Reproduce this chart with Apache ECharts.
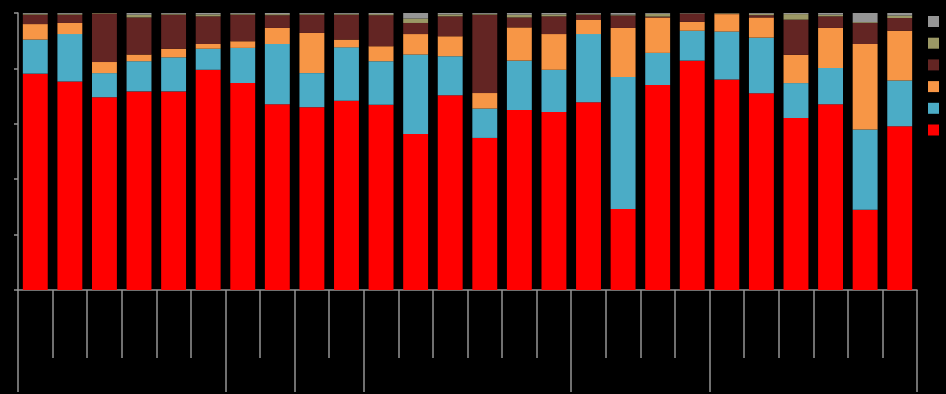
<!DOCTYPE html>
<html>
<head>
<meta charset="utf-8">
<script src="https://cdn.jsdelivr.net/npm/echarts@6/dist/echarts.min.js"></script>
<style>
  html, body { margin: 0; padding: 0; background: #000; }
  #chart { width: 946px; height: 394px; }
</style>
</head>
<body>
<div id="chart"></div>
<script>
// Category slots along the x axis (labels are not shown)
const categories = ['1','2','3','4','5','6','7','8','9','10','11','12','13',
                    '14','15','16','17','18','19','20','21','22','23','24','25','26'];
// Number of bars in each group, marked by the long ticks below the axis
const groupSizes = [6, 2, 2, 6, 4, 6];

// Shares per bar (percent), stacked bottom to top
const redShare    = [78.1, 75.3, 69.6, 71.7, 71.7, 79.5, 74.7, 67.1, 66.0, 68.3, 66.9, 56.3, 70.3, 54.9, 65.0, 64.3, 67.8, 29.2, 74.0, 82.8, 76.0, 71.0, 62.1, 67.1, 29.0, 59.1];
const blueShare   = [12.3, 17.1, 8.7, 10.9, 12.3, 7.6, 12.7, 21.7, 12.3, 19.3, 15.7, 28.7, 14.1, 10.6, 17.8, 15.2, 24.6, 47.7, 11.6, 10.8, 17.3, 20.1, 12.6, 13.0, 28.9, 16.5];
const orangeShare = [5.6, 4.0, 4.0, 2.4, 3.1, 1.7, 2.4, 5.8, 14.5, 2.8, 5.4, 7.4, 7.2, 5.6, 12.0, 12.9, 5.2, 17.7, 12.8, 3.2, 6.3, 7.3, 10.2, 14.5, 30.9, 18.0];
const brownShare  = [3.4, 3.0, 17.5, 13.4, 12.3, 10.0, 9.6, 4.6, 6.6, 9.0, 11.2, 4.0, 7.2, 28.3, 3.6, 6.4, 1.8, 4.5, 0.3, 3.0, 0.2, 0.8, 12.7, 4.2, 7.6, 4.6];
const khakiShare  = [0.3, 0.3, 0.2, 1.0, 0.3, 0.7, 0.3, 0.4, 0.3, 0.3, 0.4, 1.6, 0.7, 0.3, 1.0, 0.7, 0.3, 0.3, 1.0, 0.1, 0.2, 0.5, 2.0, 0.6, 0.3, 0.9];
const greyShare   = [0.3, 0.3, 0.0, 0.6, 0.3, 0.5, 0.3, 0.4, 0.3, 0.3, 0.4, 2.0, 0.5, 0.3, 0.6, 0.5, 0.3, 0.6, 0.3, 0.1, 0.0, 0.3, 0.4, 0.6, 3.3, 0.9];

// Y axis ticks (percent)
const yTicks = [0, 20, 40, 60, 80, 100];

const seriesDefs = [
  { name: 'A', data: redShare,    color: '#ff0000' },
  { name: 'B', data: blueShare,   color: '#4bacc6' },
  { name: 'C', data: orangeShare, color: '#f79646' },
  { name: 'D', data: brownShare,  color: '#632523' },
  { name: 'E', data: khakiShare,  color: '#9b9865' },
  { name: 'F', data: greyShare,   color: '#959595' }
];

// Group boundary positions on a 0..N scale
const boundaries = [0];
groupSizes.forEach(n => boundaries.push(boundaries[boundaries.length - 1] + n));

const axisGrey = '#959595';

const chart = echarts.init(document.getElementById('chart'), null, { renderer: 'canvas' });
chart.setOption({
  backgroundColor: '#000',
  animation: false,
  grid: { left: 18, right: 29, top: 13, bottom: 104, containLabel: false },
  legend: {
    orient: 'vertical',
    left: 923,
    top: 11,
    itemWidth: 11,
    itemHeight: 11,
    itemGap: 10.7,
    icon: 'rect',
    formatter: () => '',
    textStyle: { fontSize: 1, color: '#000' },
    data: seriesDefs.map(s => s.name).reverse()
  },
  xAxis: [
    {
      type: 'category',
      data: categories,
      boundaryGap: true,
      axisLine: { show: true, lineStyle: { color: axisGrey, width: 1.5 } },
      axisTick: { show: true, interval: 0, length: 68, lineStyle: { color: axisGrey, width: 1.5 } },
      axisLabel: { show: false },
      splitLine: { show: false }
    },
    {
      type: 'value',
      position: 'bottom',
      min: 0,
      max: categories.length,
      axisLine: { show: false },
      axisTick: { show: true, customValues: boundaries, length: 102, lineStyle: { color: axisGrey, width: 1.5 } },
      axisLabel: { show: false },
      splitLine: { show: false }
    }
  ],
  yAxis: {
    type: 'value',
    min: yTicks[0],
    max: yTicks[yTicks.length - 1],
    interval: yTicks[1] - yTicks[0],
    axisLine: { show: true, lineStyle: { color: axisGrey, width: 1.5 } },
    axisTick: { show: true, length: 4, lineStyle: { color: axisGrey, width: 1.5 } },
    axisLabel: { show: false },
    splitLine: { show: false }
  },
  series: seriesDefs.map(s => ({
    name: s.name,
    type: 'bar',
    stack: 'share',
    xAxisIndex: 0,
    barWidth: '72%',
    data: s.data,
    itemStyle: { color: s.color },
    emphasis: { disabled: true }
  }))
});
</script>
</body>
</html>
